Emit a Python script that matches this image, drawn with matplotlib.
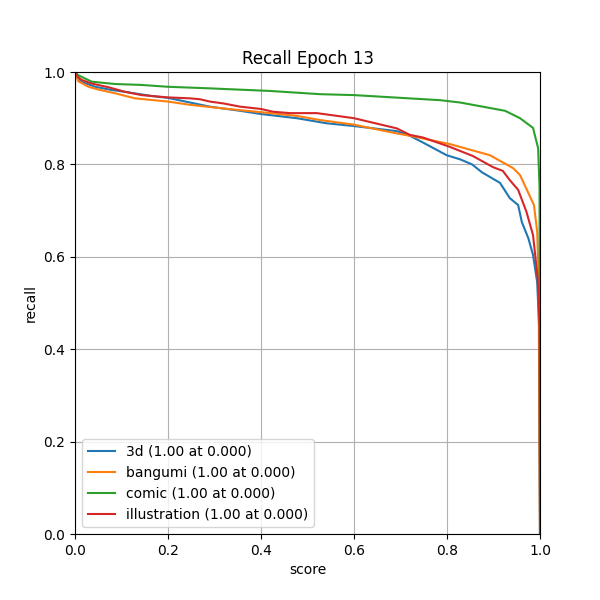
import matplotlib
matplotlib.use("Agg")
import matplotlib.pyplot as plt

# valores
x_3d = [0.0, 0.005, 0.014, 0.043, 0.079, 0.108, 0.165, 0.2, 0.247, 0.29, 0.355, 0.4, 0.477,
        0.541, 0.6, 0.692, 0.72, 0.749, 0.799, 0.828, 0.854, 0.875, 0.914, 0.935, 0.953,
        0.961, 0.975, 0.985, 0.994, 0.998, 1.0]
y_3d = [1.0, 0.99, 0.979, 0.968, 0.961, 0.957, 0.948, 0.944, 0.934, 0.925, 0.916, 0.909, 0.90,
        0.889, 0.883, 0.872, 0.862, 0.847, 0.82, 0.811, 0.80, 0.783, 0.76, 0.727, 0.712,
        0.675, 0.64, 0.604, 0.545, 0.45, 0.0]

x_bangumi = [0.0, 0.003, 0.007, 0.029, 0.05, 0.086, 0.129, 0.2, 0.247, 0.319, 0.4, 0.477, 0.527,
             0.6, 0.692, 0.72, 0.806, 0.892, 0.942, 0.957, 0.975, 0.987, 0.994, 0.997, 1.0]
y_bangumi = [1.0, 0.99, 0.98, 0.968, 0.962, 0.954, 0.943, 0.936, 0.929, 0.921, 0.913, 0.905,
             0.896, 0.886, 0.867, 0.862, 0.844, 0.82, 0.792, 0.777, 0.738, 0.712, 0.654, 0.55, 0.0]

x_comic = [0.0, 0.007, 0.036, 0.086, 0.143, 0.2, 0.28, 0.419, 0.527, 0.6, 0.785, 0.828, 0.925,
           0.957, 0.985, 0.996, 0.999, 1.0]
y_comic = [1.0, 0.993, 0.979, 0.974, 0.972, 0.968, 0.965, 0.959, 0.952, 0.95, 0.939, 0.934,
           0.916, 0.90, 0.879, 0.835, 0.75, 0.0]

x_illus = [0.0, 0.005, 0.014, 0.036, 0.072, 0.108, 0.143, 0.2, 0.247, 0.269, 0.29, 0.319,
           0.355, 0.4, 0.426, 0.462, 0.52, 0.6, 0.692, 0.72, 0.749, 0.806, 0.856, 0.899, 0.92,
           0.935, 0.953, 0.971, 0.985, 0.995, 0.999, 1.0]
y_illus = [1.0, 0.99, 0.983, 0.975, 0.967, 0.957, 0.95, 0.945, 0.943, 0.941, 0.936, 0.932,
           0.925, 0.92, 0.914, 0.911, 0.911, 0.90, 0.878, 0.864, 0.858, 0.838, 0.818, 0.794,
           0.786, 0.766, 0.745, 0.697, 0.647, 0.554, 0.45, 0.0]

labels = ["3d (1.00 at 0.000)", "bangumi (1.00 at 0.000)",
          "comic (1.00 at 0.000)", "illustration (1.00 at 0.000)"]

fig, ax = plt.subplots(figsize=(6, 6), dpi=100)
ax.plot(x_3d, y_3d, label=labels[0])
ax.plot(x_bangumi, y_bangumi, label=labels[1])
ax.plot(x_comic, y_comic, label=labels[2])
ax.plot(x_illus, y_illus, label=labels[3])

ax.set_xlim(0, 1)
ax.set_ylim(0, 1)
ax.set_xlabel("score")
ax.set_ylabel("recall")
ax.set_title("Recall Epoch 13")
ax.grid(True)
ax.legend(loc="lower left")

plt.savefig("out.png")
